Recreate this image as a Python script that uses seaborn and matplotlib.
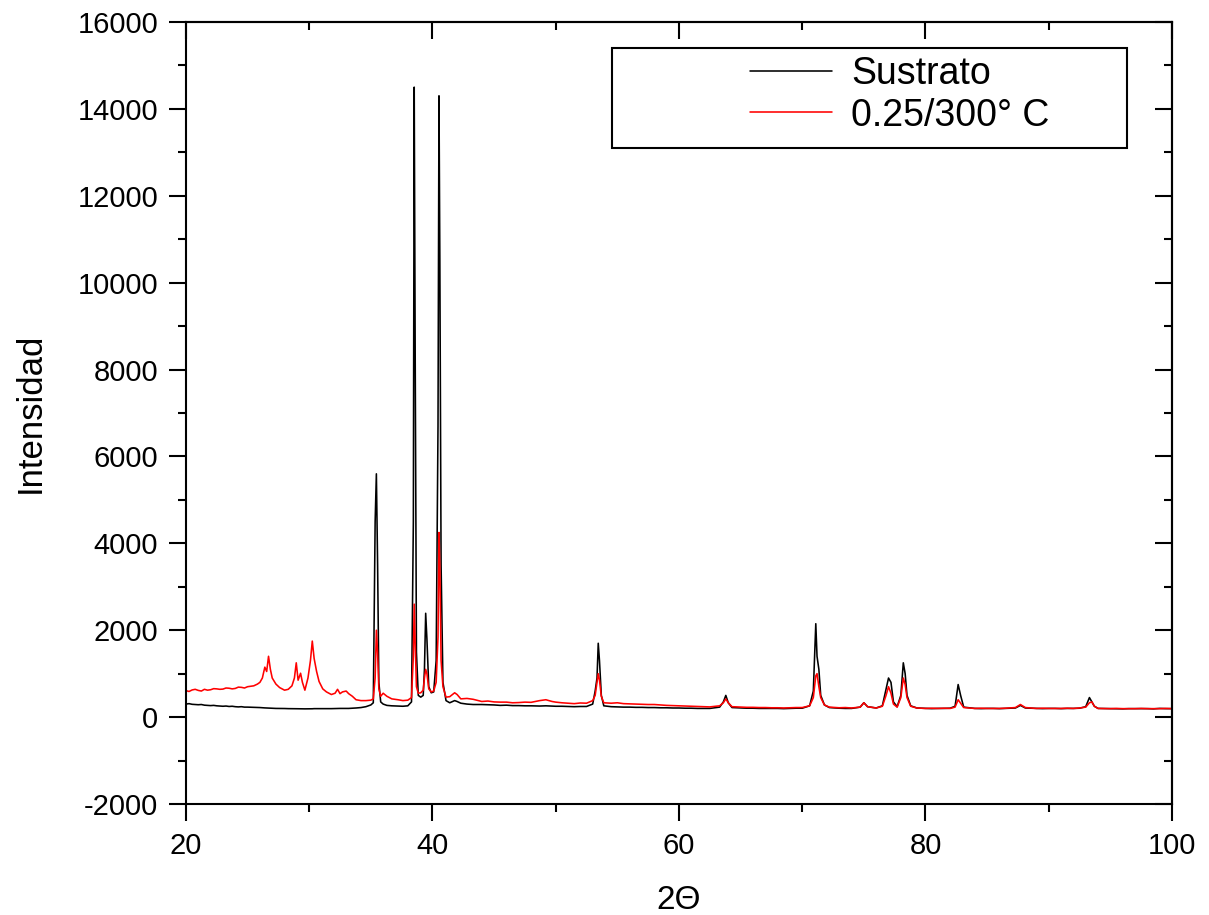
import matplotlib
matplotlib.use("Agg")
import matplotlib.pyplot as plt
from matplotlib.ticker import MultipleLocator
from matplotlib.patches import Rectangle
from matplotlib.lines import Line2D
import pandas as pd
import seaborn as sns

# Diffractogram samples: 2-theta (degrees) and intensity (counts)
two_theta = [
    # 20 - 25
    20.0, 20.25, 20.5, 20.75, 21.0, 21.25, 21.5, 21.75, 22.0, 22.25,
    22.5, 22.75, 23.0, 23.25, 23.5, 23.75, 24.0, 24.25, 24.5, 24.75, 25.0,
    # 25.5 - 35.2
    25.5, 25.8, 26.0, 26.2, 26.4, 26.55, 26.7, 26.85, 27.0, 27.3, 27.6, 28.0,
    28.3, 28.6, 28.8, 28.95, 29.1, 29.3, 29.45, 29.65, 29.9, 30.1, 30.25, 30.4,
    30.6, 30.8, 31.1, 31.4, 31.8, 32.1, 32.3, 32.5, 32.7, 33.0, 33.2, 33.5,
    33.8, 34.2, 34.6, 35.0, 35.2,
    # 35.35 - 43.3
    35.35, 35.45, 35.55, 35.65, 35.8, 36.0, 36.3, 36.7, 37.2, 37.6, 38.0, 38.3,
    38.45, 38.52, 38.6, 38.7, 38.85, 39.05, 39.25, 39.35, 39.45, 39.55, 39.7,
    39.9, 40.1, 40.3, 40.45, 40.53, 40.6, 40.7, 40.85, 41.1, 41.4, 41.8, 42.0,
    42.3, 42.8, 43.3,
    # 44 - 100
    44.0, 44.5, 45.0, 45.5, 46.0, 46.5, 47.0, 47.5, 48.0, 48.7,
    49.2, 49.7, 50.0, 50.5, 51.0, 51.5, 52.0, 52.5, 53.0, 53.2,
    53.35, 53.45, 53.55, 53.7, 53.9, 54.5, 55.0, 55.5, 56.0, 56.5,
    57.0, 57.5, 58.0, 58.5, 59.0, 59.5, 60.0, 60.5, 61.0, 61.5,
    62.0, 62.5, 63.3, 63.6, 63.8, 64.0, 64.3, 65.0, 65.5, 66.0,
    66.5, 67.0, 67.5, 68.0, 68.5, 69.0, 69.5, 70.0, 70.6, 70.9,
    71.1, 71.2, 71.35, 71.5, 71.8, 72.2, 73.0, 73.5, 74.0, 74.7,
    75.0, 75.3, 76.0, 76.5, 76.8, 77.0, 77.2, 77.4, 77.7, 78.0,
    78.2, 78.35, 78.5, 78.8, 79.3, 80.0, 80.5, 81.0, 81.5, 82.0,
    82.4, 82.65, 82.85, 83.1, 84.0, 84.5, 85.0, 85.5, 86.0, 86.5,
    87.3, 87.7, 88.1, 89.0, 89.5, 90.0, 90.5, 91.0, 91.5, 92.0,
    92.5, 93.0, 93.3, 93.5, 93.7, 94.0, 95.0, 95.5, 96.0, 96.5,
    97.0, 97.5, 98.0, 98.5, 99.0, 99.5, 100.0,
]

sustrato = [
    300, 310, 295, 290, 285, 290, 275, 270, 265, 270,
    260, 255, 250, 255, 245, 250, 240, 235, 240, 230, 230,
    225, 222, 220, 215, 212, 210, 208, 205, 205, 200, 200, 198,
    195, 195, 195, 193, 192, 190, 190, 190, 190, 190, 192, 195,
    195, 195, 195, 195, 195, 198, 198, 200, 200, 200, 200, 205,
    210, 220, 240, 280, 330,
    4500, 5600, 3500, 800, 350, 300, 270, 260, 255, 250, 260, 350,
    4500, 14500, 8300, 1500, 500, 460, 500, 1100, 2390, 1800, 700,
    560, 580, 1300, 6700, 14300, 10500, 3500, 800, 380, 330, 380, 360,
    320, 300, 290,
    290, 285, 280, 270, 275, 265, 265, 260, 260, 255,
    260, 255, 250, 250, 245, 240, 245, 245, 300, 600,
    900, 1700, 1300, 500, 260, 240, 235, 230, 230, 225,
    225, 220, 220, 215, 215, 210, 210, 205, 205, 200,
    200, 200, 230, 350, 500, 330, 220, 210, 205, 205,
    200, 200, 200, 200, 195, 200, 205, 205, 260, 600,
    2150, 1400, 1100, 500, 280, 220, 205, 200, 200, 230,
    330, 240, 210, 260, 650, 900, 800, 350, 240, 500,
    1250, 1000, 500, 260, 210, 200, 195, 200, 200, 205,
    250, 750, 500, 230, 200, 195, 200, 200, 195, 200,
    210, 270, 210, 200, 195, 200, 200, 195, 200, 200,
    205, 240, 450, 350, 250, 200, 195, 195, 190, 195,
    195, 195, 195, 190, 200, 195, 195,
]

pelicula = [
    610, 590, 625, 640, 615, 600, 640, 620, 630, 655,
    650, 640, 645, 670, 665, 650, 660, 690, 685, 670, 700,
    720, 760, 800, 900, 1150, 1050, 1400, 1100, 900, 760, 680, 620,
    640, 720, 900, 1250, 850, 1010, 800, 620, 900, 1300, 1750, 1350,
    1050, 820, 650, 580, 520, 550, 640, 540, 580, 600, 540, 480,
    400, 380, 380, 390, 420,
    900, 2000, 1470, 650, 480, 550, 480, 420, 400, 380, 390, 450,
    1400, 2600, 1700, 700, 550, 560, 620, 900, 1100, 1000, 650,
    580, 600, 800, 1840, 4250, 3500, 1300, 700, 460, 470, 560, 520,
    420, 430, 410,
    360, 370, 350, 345, 345, 330, 335, 345, 340, 380,
    400, 360, 345, 330, 320, 310, 325, 320, 380, 500,
    800, 1000, 850, 480, 330, 320, 330, 310, 305, 300,
    295, 290, 290, 280, 270, 265, 260, 255, 250, 245,
    240, 235, 260, 330, 420, 330, 240, 230, 225, 225,
    220, 220, 215, 215, 210, 215, 220, 220, 260, 450,
    950, 1000, 700, 450, 280, 230, 215, 220, 210, 230,
    330, 240, 210, 250, 500, 700, 550, 300, 230, 450,
    900, 750, 450, 250, 210, 200, 205, 200, 205, 200,
    230, 400, 320, 220, 200, 205, 200, 200, 200, 205,
    220, 290, 220, 200, 205, 200, 200, 200, 205, 200,
    210, 230, 330, 350, 250, 200, 195, 200, 195, 195,
    195, 200, 195, 195, 195, 200, 195,
]

assert len(two_theta) == len(sustrato) == len(pelicula)

series_labels = ["Sustrato", "0.25/300° C"]
series_colors = ["#000000", "#ff0000"]

sns.set_theme(style="ticks")
plt.rcParams["font.family"] = ["Liberation Sans", "DejaVu Sans"]
plt.rcParams["axes.unicode_minus"] = False
plt.rcParams["text.color"] = "black"
plt.rcParams["axes.labelcolor"] = "black"

n = len(two_theta)
df = pd.DataFrame({
    "two_theta": two_theta * 2,
    "intensidad": sustrato + pelicula,
    "muestra": [series_labels[0]] * n + [series_labels[1]] * n,
})

fig = plt.figure(figsize=(12.09, 9.15), dpi=100)
ax = fig.add_axes([0.1538, 0.1213, 0.8156, 0.8547])

sns.lineplot(
    data=df, x="two_theta", y="intensidad", hue="muestra",
    hue_order=series_labels, palette=dict(zip(series_labels, series_colors)),
    estimator=None, sort=False, linewidth=1.15, legend=False, ax=ax,
)

ax.set_xlim(20, 100)
ax.set_ylim(-2000, 16000)
ax.xaxis.set_major_locator(MultipleLocator(20))
ax.xaxis.set_minor_locator(MultipleLocator(10))
ax.yaxis.set_major_locator(MultipleLocator(2000))
ax.yaxis.set_minor_locator(MultipleLocator(1000))

for sp in ax.spines.values():
    sp.set_visible(True)
    sp.set_linewidth(1.5)
    sp.set_color("black")

ax.tick_params(which="major", direction="out", length=12, width=1.5,
               labelsize=21, pad=8, colors="black")
ax.tick_params(which="minor", direction="out", length=6, width=1.5, colors="black")

# inward ticks on the opposite spines
top = ax.secondary_xaxis("top")
right = ax.secondary_yaxis("right")
top.xaxis.set_major_locator(MultipleLocator(20))
top.xaxis.set_minor_locator(MultipleLocator(10))
right.yaxis.set_major_locator(MultipleLocator(2000))
right.yaxis.set_minor_locator(MultipleLocator(1000))
for sec in (top, right):
    sec.tick_params(which="major", direction="in", length=12, width=1.5, colors="black",
                    labeltop=False, labelright=False, labelbottom=False, labelleft=False)
    sec.tick_params(which="minor", direction="in", length=6, width=1.5, colors="black")
    for sp in sec.spines.values():
        sp.set_linewidth(1.5)
        sp.set_color("black")

ax.set_xlabel("2Θ", fontsize=24, labelpad=18, color="black")
ax.set_ylabel("Intensidad", fontsize=25, labelpad=22, color="black")

handles = [Line2D([], [], color=c, lw=1.15) for c in series_colors]
ax.legend(handles, series_labels, loc="upper left", bbox_to_anchor=(0.572, 0.9565),
          frameon=False, fontsize=27, handlelength=2.2, handletextpad=0.5,
          labelspacing=0.15, borderpad=0, borderaxespad=0, labelcolor="black")
ax.add_patch(Rectangle((0.432, 0.839), 0.522, 0.128, transform=ax.transAxes,
                       fill=False, edgecolor="black", linewidth=1.5, zorder=5))

fig.savefig("out.png", dpi=100)
